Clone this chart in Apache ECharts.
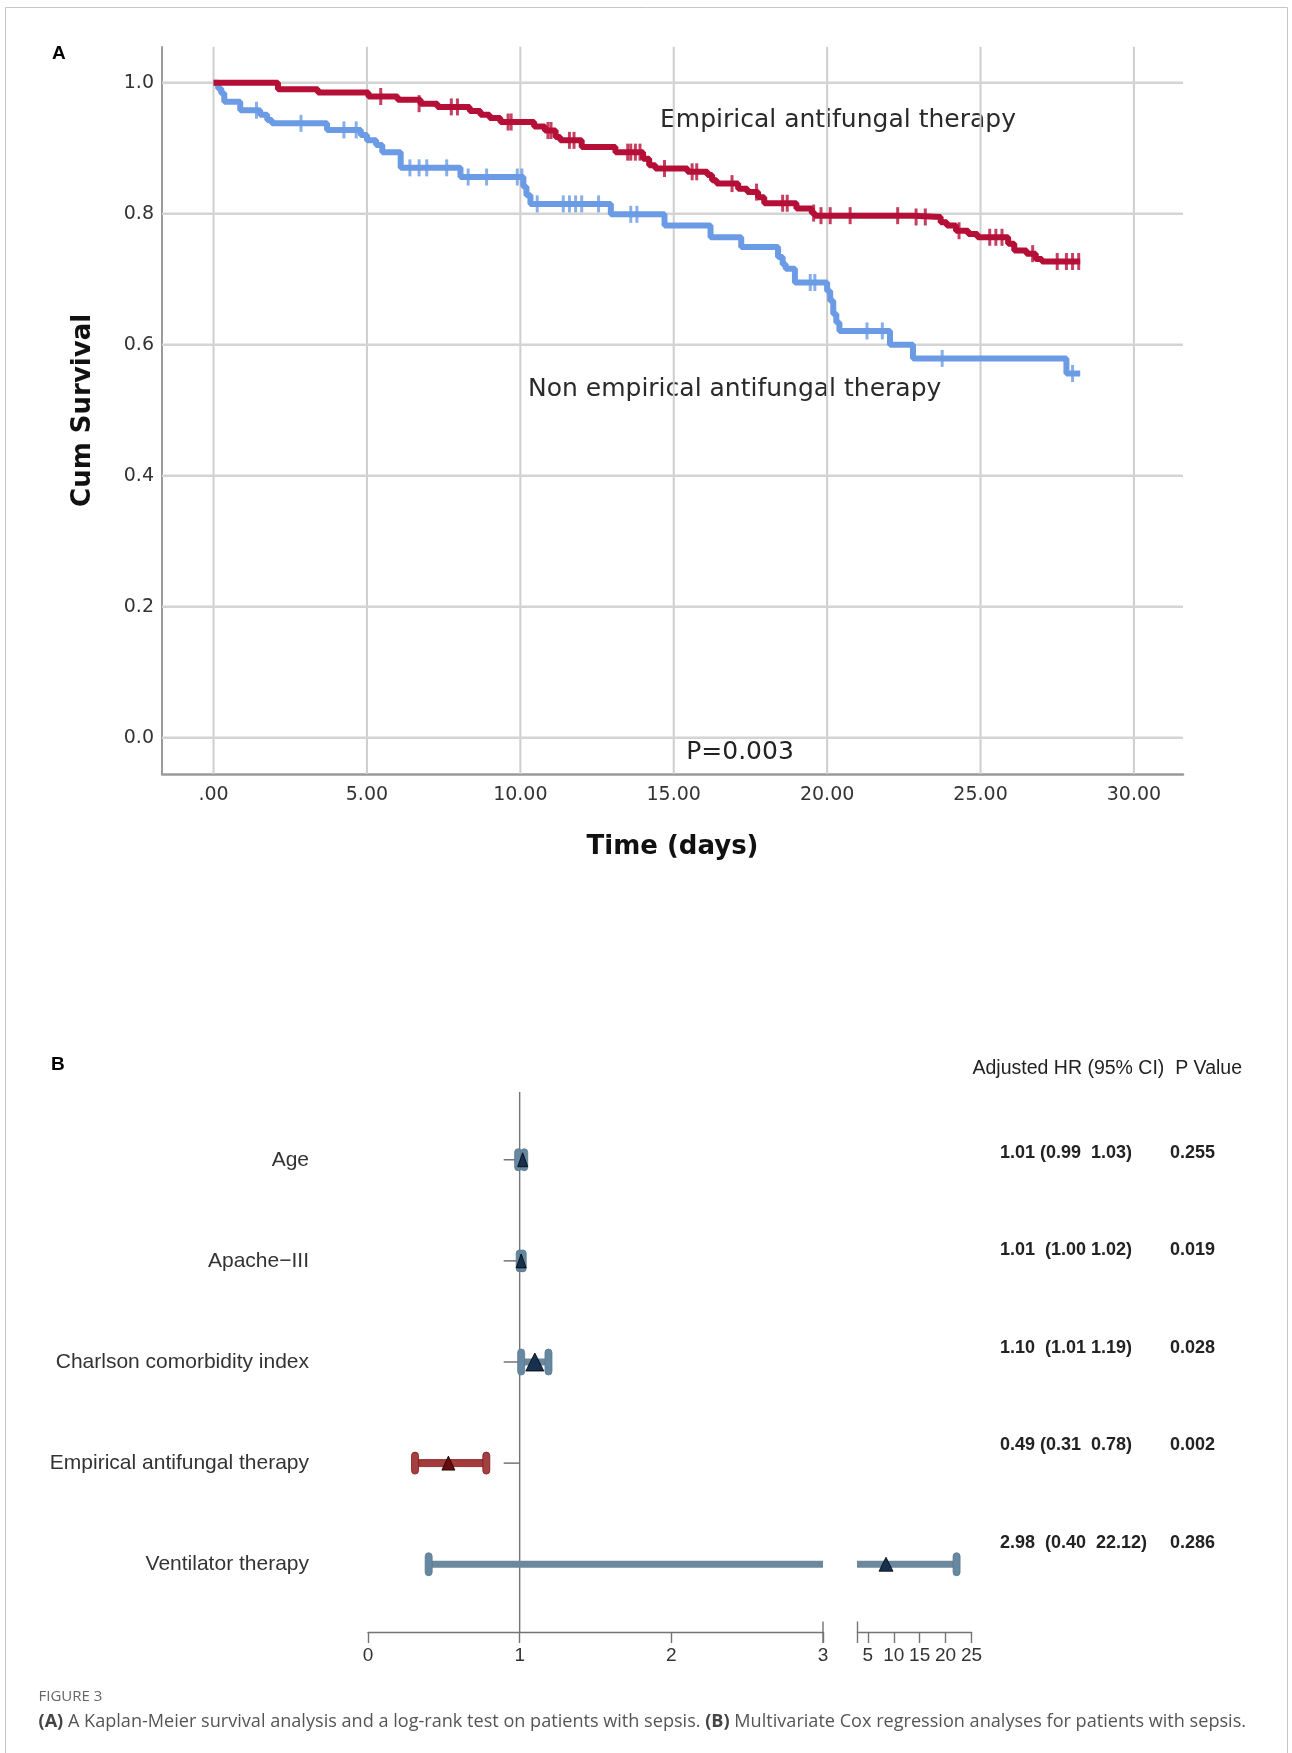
<!DOCTYPE html>
<html><head><meta charset="utf-8">
<script src="https://cdn.jsdelivr.net/npm/echarts@6/dist/echarts.min.js"></script>
<style>html,body{margin:0;padding:0;background:#fff}#c{width:1292px;height:1753px}</style>
</head><body><div id="c"></div>
<script>
// ===== Panel A: Kaplan-Meier =====
const kmXTicks = [0, 5, 10, 15, 20, 25, 30];
const kmYTicks = [0, 0.2, 0.4, 0.6, 0.8, 1.0];
// [time (days), cumulative survival] – survival from that time onward
const empiricalSteps = [[0,1.000],[2.1,0.990],[3.4,0.985],[5.05,0.979],[6.0,0.974],[6.75,0.968],[7.3,0.963],[8.35,0.957],[8.7,0.951],[9.0,0.946],[9.35,0.940],[10.45,0.933],[10.8,0.927],[11.15,0.917],[11.3,0.912],[12.0,0.902],[13.1,0.894],[14.0,0.884],[14.2,0.874],[14.4,0.869],[15.45,0.864],[16.1,0.859],[16.25,0.851],[16.4,0.846],[17.1,0.838],[17.4,0.833],[17.75,0.825],[17.95,0.816],[19.0,0.808],[19.5,0.801],[19.6,0.797],[22.8,0.795],[23.7,0.787],[23.9,0.782],[24.2,0.774],[24.6,0.769],[24.9,0.764],[25.9,0.754],[26.1,0.744],[26.5,0.739],[26.8,0.731],[27.0,0.727],[28.25,0.727]];
const nonEmpiricalSteps = [[0,1.000],[0.15,0.991],[0.25,0.984],[0.35,0.971],[0.87,0.958],[1.52,0.951],[1.75,0.943],[1.9,0.938],[3.7,0.928],[4.8,0.920],[5.0,0.912],[5.3,0.905],[5.5,0.894],[6.1,0.870],[8.05,0.856],[10.1,0.841],[10.2,0.828],[10.33,0.815],[12.95,0.799],[14.7,0.782],[16.2,0.764],[17.2,0.749],[18.4,0.734],[18.55,0.723],[18.65,0.716],[18.95,0.695],[20.0,0.682],[20.1,0.667],[20.2,0.647],[20.3,0.634],[20.4,0.621],[22.05,0.600],[22.8,0.579],[27.8,0.556],[28.25,0.556]];
const empiricalCensored = [[5.45,0.979],[6.7,0.968],[7.75,0.963],[7.95,0.963],[9.6,0.940],[9.7,0.940],[10.9,0.927],[11.0,0.927],[11.6,0.912],[11.75,0.912],[13.5,0.894],[13.6,0.894],[13.75,0.894],[13.9,0.894],[14.7,0.869],[15.6,0.864],[15.75,0.864],[16.9,0.846],[17.7,0.833],[18.55,0.816],[18.7,0.816],[19.56,0.801],[19.8,0.797],[20.1,0.797],[20.75,0.797],[22.3,0.797],[22.9,0.795],[23.2,0.795],[24.3,0.774],[25.3,0.764],[25.5,0.764],[25.7,0.764],[26.7,0.739],[27.5,0.727],[27.8,0.727],[28.0,0.727],[28.2,0.727]];
const nonEmpiricalCensored = [[1.4,0.958],[2.85,0.938],[4.25,0.928],[4.65,0.928],[6.4,0.870],[6.7,0.870],[6.95,0.870],[7.6,0.870],[8.3,0.856],[8.9,0.856],[9.9,0.856],[10.05,0.856],[10.55,0.815],[11.4,0.815],[11.6,0.815],[11.8,0.815],[12.0,0.815],[12.55,0.815],[13.6,0.799],[13.8,0.799],[19.45,0.695],[19.6,0.695],[21.3,0.621],[21.8,0.621],[23.75,0.579],[28.0,0.556]];

// ===== Panel B: Cox regression forest plot =====
const covariates = ['Age', 'Apache\u2212III', 'Charlson comorbidity index', 'Empirical antifungal therapy', 'Ventilator therapy'];
const hr = [1.01, 1.01, 1.10, 0.49, 2.98];
const ciLow = [0.99, 1.00, 1.01, 0.31, 0.40];
const ciHigh = [1.03, 1.02, 1.19, 0.78, 22.12];
const pValues = [0.255, 0.019, 0.028, 0.002, 0.286];
const markerPlotted = [1.02, 1.01, 1.10, 0.53, 8.5]; // triangle positions as drawn in the figure
const seg1Ticks = [0, 1, 2, 3];
const seg2Ticks = [5, 10, 15, 20, 25];
const axisBreak = 3;
const seg2Max = 25;
const refHR = 1;

// ---- styles (kept apart from data) ----
const RED = '#b50f38', BLUE = '#6b9be4';
const KM_X = [-1.68, 31.6], KM_Y = [-0.0555, 1.055];
const FB_Y = [-0.67, 4.67];
const triSize = [[10,14],[10,14],[18,18],[13,14],[14,14]];
const capH = [22, 22, 26, 22, 23];
const sepA = [' ', '  ', '  ', ' ', '  '];
const sepB = ['  ', ' ', ' ', '  ', '  '];
const KMFONT = '"DejaVu Sans", sans-serif';
const ARIAL = '"Liberation Sans", Arial, sans-serif';

const hrText = hr.map((v, i) => v.toFixed(2) + sepA[i] + '(' + ciLow[i].toFixed(2) + sepB[i] + ciHigh[i].toFixed(2) + ')');
const pText = pValues.map(v => v.toFixed(3));

const chart = echarts.init(document.getElementById('c'), null, {renderer: 'canvas', width: 1292, height: 1753});

function lineEl(x1, y1, x2, y2, stroke, w) {
  return {type: 'line', shape: {x1, y1, x2, y2}, style: {stroke, lineWidth: w}};
}

function ciRender(params, api) {
  const i = api.value(0), lo = api.value(1), hi = api.value(2), pos = api.value(3);
  const a = api.coord([lo, i]), b = api.coord([hi, i]), m = api.coord([pos, i]);
  const isRed = i === 3;
  const barFill = isRed ? '#a23c3c' : '#6b889d';
  const capFill = isRed ? '#a44040' : '#6788a1';
  const edge = isRed ? '#7e1b1b' : '#5a7890';
  const triFill = isRed ? '#6a0b0b' : '#17304f';
  const y = a[1], ch = capH[i], tw = triSize[i][0], th = triSize[i][1];
  return {type: 'group', children: [
    {type: 'rect', shape: {x: a[0], y: y - 3.5, width: b[0] - a[0], height: 7}, style: {fill: barFill, stroke: isRed ? edge : null, lineWidth: 0.8}},
    {type: 'rect', shape: {x: a[0] - 3.5, y: y - ch / 2, width: 7, height: ch, r: 3.5}, style: {fill: capFill, stroke: edge, lineWidth: 0.8}},
    {type: 'rect', shape: {x: b[0] - 3.5, y: y - ch / 2, width: 7, height: ch, r: 3.5}, style: {fill: capFill, stroke: edge, lineWidth: 0.8}},
    {type: 'polygon', shape: {points: [[m[0], y - th / 2], [m[0] - tw / 2, y + th / 2], [m[0] + tw / 2, y + th / 2]]}, style: {fill: triFill, stroke: '#000', lineWidth: 0.8}}
  ]};
}

const ciData = covariates.map((_, i) => [i, ciLow[i], ciHigh[i], markerPlotted[i]]);

const series = [
  {type: 'custom', xAxisIndex: 0, yAxisIndex: 0, z: 1, silent: true,
   data: kmXTicks.map(v => [v, 0]),
   renderItem(p, api) { const v = api.value(0); const a = api.coord([v, KM_Y[0]]), b = api.coord([v, KM_Y[1]]); return lineEl(a[0], a[1], b[0], b[1], '#cecece', 2); }},
  {type: 'custom', xAxisIndex: 0, yAxisIndex: 0, z: 1, silent: true,
   data: kmYTicks.map(v => [0, v]),
   renderItem(p, api) { const v = api.value(1); const a = api.coord([KM_X[0], v]), b = api.coord([KM_X[1], v]); return lineEl(a[0], a[1], b[0], b[1], '#d4d4d4', 2.5); }},
  {type: 'line', name: 'Non empirical antifungal therapy', xAxisIndex: 0, yAxisIndex: 0, z: 3, step: 'end', showSymbol: false,
   data: nonEmpiricalSteps, lineStyle: {color: BLUE, width: 6}, itemStyle: {color: BLUE}},
  {type: 'scatter', xAxisIndex: 0, yAxisIndex: 0, z: 3, data: nonEmpiricalCensored, symbol: 'rect', symbolSize: [3, 17], itemStyle: {color: BLUE}},
  {type: 'line', name: 'Empirical antifungal therapy', xAxisIndex: 0, yAxisIndex: 0, z: 4, step: 'end', showSymbol: false,
   data: empiricalSteps, lineStyle: {color: RED, width: 6}, itemStyle: {color: RED}},
  {type: 'scatter', xAxisIndex: 0, yAxisIndex: 0, z: 4, data: empiricalCensored, symbol: 'rect', symbolSize: [3, 17], itemStyle: {color: RED}},

  {type: 'custom', xAxisIndex: 1, yAxisIndex: 1, z: 1, silent: true, data: [[refHR, 0]],
   renderItem(p, api) { const a = api.coord([refHR, FB_Y[0]]), b = api.coord([refHR, FB_Y[1]]); return lineEl(a[0], a[1], b[0], b[1], '#747474', 1.4); }},
  {type: 'custom', xAxisIndex: 1, yAxisIndex: 1, z: 1, silent: true, data: covariates.map((_, i) => [refHR, i]),
   renderItem(p, api) { const c = api.coord([refHR, api.value(1)]); return lineEl(c[0] - 16, c[1], c[0], c[1], '#747474', 1.5); }},
  {type: 'custom', xAxisIndex: 1, yAxisIndex: 1, z: 2, silent: true, data: [[axisBreak, FB_Y[1]]],
   renderItem(p, api) { const c = api.coord([axisBreak, FB_Y[1]]); return lineEl(c[0], c[1] - 10.5, c[0], c[1] + 11, '#747474', 1.4); }},
  {type: 'custom', xAxisIndex: 2, yAxisIndex: 2, z: 2, silent: true, data: [[axisBreak, FB_Y[1]]],
   renderItem(p, api) { const c = api.coord([axisBreak, FB_Y[1]]); return lineEl(c[0], c[1] - 10.5, c[0], c[1] + 11, '#747474', 1.4); }},
  {type: 'custom', xAxisIndex: 1, yAxisIndex: 1, z: 3, clip: true, silent: true, data: ciData, renderItem: ciRender},
  {type: 'custom', xAxisIndex: 2, yAxisIndex: 2, z: 3, clip: true, silent: true, data: ciData, renderItem: ciRender},
  {type: 'custom', xAxisIndex: 3, yAxisIndex: 3, z: 3, silent: true,
   data: covariates.flatMap((_, i) => [[0, i], [1, i]]),
   renderItem(p, api) {
     const col = api.value(0), row = api.value(1); const c = api.coord([col, row]);
     return {type: 'text', style: {text: col === 0 ? hrText[row] : pText[row], x: c[0], y: c[1],
       font: 'bold 18px ' + ARIAL, fill: '#222', textAlign: 'left', textVerticalAlign: 'middle', align: 'left', verticalAlign: 'middle'}};
   }}
];

const hidden = {show: false};
const option = {
  animation: false,
  backgroundColor: '#fff',
  grid: [
    {left: 162, top: 46.7, width: 1021, height: 727.3, containLabel: false, outerBoundsMode: 'none'},
    {left: 368, top: 1092, width: 455, height: 540, containLabel: false, outerBoundsMode: 'none'},
    {left: 857.5, top: 1092, width: 114, height: 540, containLabel: false, outerBoundsMode: 'none'},
    {left: 1000, top: 1153, width: 170, height: 389.6, containLabel: false, outerBoundsMode: 'none'}
  ],
  xAxis: [
    {gridIndex: 0, type: 'value', min: KM_X[0], max: KM_X[1],
     axisLine: {show: true, onZero: false, lineStyle: {color: '#9a9a9a', width: 2.5}},
     axisTick: hidden, splitLine: hidden,
     axisLabel: {customValues: kmXTicks, formatter: v => v === 0 ? '.00' : v.toFixed(2), fontFamily: KMFONT, fontSize: 19, color: '#333', margin: 12},
     name: 'Time (days)', nameLocation: 'middle', nameGap: 60,
     nameTextStyle: {fontFamily: KMFONT, fontWeight: 'bold', fontSize: 26, color: '#111'}},
    {gridIndex: 1, type: 'value', min: 0, max: axisBreak, interval: 1,
     axisLine: {show: true, onZero: false, lineStyle: {color: '#747474', width: 1.4}},
     axisTick: {show: true, length: 11, lineStyle: {color: '#747474', width: 1.4}},
     splitLine: hidden,
     axisLabel: {fontFamily: ARIAL, fontSize: 19, color: '#333', margin: 14}},
    {gridIndex: 2, type: 'value', min: axisBreak, max: seg2Max,
     axisLine: {show: true, onZero: false, lineStyle: {color: '#747474', width: 1.4}},
     axisTick: {show: true, length: 11, customValues: seg2Ticks, lineStyle: {color: '#747474', width: 1.4}},
     splitLine: hidden,
     axisLabel: {customValues: seg2Ticks, fontFamily: ARIAL, fontSize: 19, color: '#333', margin: 14}},
    {gridIndex: 3, type: 'value', min: 0, max: 1, show: false}
  ],
  yAxis: [
    {gridIndex: 0, type: 'value', min: KM_Y[0], max: KM_Y[1],
     axisLine: {show: true, onZero: false, lineStyle: {color: '#7a7a7a', width: 1.5}},
     axisTick: hidden, splitLine: hidden,
     axisLabel: {customValues: kmYTicks, formatter: v => v.toFixed(1), fontFamily: KMFONT, fontSize: 19, color: '#333', margin: 8},
     name: 'Cum Survival', nameLocation: 'middle', nameRotate: 90, nameGap: 66,
     nameTextStyle: {fontFamily: KMFONT, fontWeight: 'bold', fontSize: 26, color: '#111'}},
    {gridIndex: 1, type: 'value', min: FB_Y[0], max: FB_Y[1], inverse: true,
     axisLine: {show: false, onZero: false}, axisTick: hidden, splitLine: hidden,
     axisLabel: {customValues: [0, 1, 2, 3, 4], formatter: v => covariates[Math.round(v)], fontFamily: ARIAL, fontSize: 21, color: '#333', margin: 59}},
    {gridIndex: 2, type: 'value', min: FB_Y[0], max: FB_Y[1], inverse: true, show: false},
    {gridIndex: 3, type: 'value', min: 0, max: 4, inverse: true, show: false}
  ],
  graphic: [
    {type: 'rect', silent: true, z: 0, shape: {x: 5.5, y: 7.5, width: 1282, height: 1760}, style: {fill: 'none', stroke: '#c6c6c6', lineWidth: 1}},
    {type: 'text', style: {text: 'A', x: 52, y: 53.5, font: 'bold 19px ' + ARIAL, fill: '#000', textAlign: 'left', textVerticalAlign: 'middle', align: 'left', verticalAlign: 'middle'}},
    {type: 'text', style: {text: 'Empirical antifungal therapy', x: 660, y: 120, font: '25px ' + KMFONT, fill: '#2a2a2a', textAlign: 'left', textVerticalAlign: 'middle', align: 'left', verticalAlign: 'middle'}},
    {type: 'text', style: {text: 'Non empirical antifungal therapy', x: 528, y: 389, font: '25px ' + KMFONT, fill: '#2a2a2a', textAlign: 'left', textVerticalAlign: 'middle', align: 'left', verticalAlign: 'middle'}},
    {type: 'text', style: {text: 'P=0.003', x: 740, y: 752, font: '25px ' + KMFONT, fill: '#222', textAlign: 'center', textVerticalAlign: 'middle', align: 'center', verticalAlign: 'middle'}},
    {type: 'text', style: {text: 'B', x: 51, y: 1065, font: 'bold 19px ' + ARIAL, fill: '#000', textAlign: 'left', textVerticalAlign: 'middle', align: 'left', verticalAlign: 'middle'}},
    {type: 'text', style: {text: 'Adjusted HR (95% CI)  P Value', x: 972.5, y: 1069, font: '19.5px ' + ARIAL, fill: '#222', textAlign: 'left', textVerticalAlign: 'middle', align: 'left', verticalAlign: 'middle'}},
    {type: 'text', style: {text: 'FIGURE 3', x: 38.5, y: 1697, font: '15px "Open Sans", sans-serif', fill: '#666', textAlign: 'left', textVerticalAlign: 'middle', align: 'left', verticalAlign: 'middle'}},
    {type: 'text', style: {
      text: '{b|(A)} A Kaplan-Meier survival analysis and a log-rank test on patients with sepsis. {b|(B)} Multivariate Cox regression analyses for patients with sepsis.',
      x: 38.5, y: 1722, font: '18.1px "Open Sans", sans-serif', fill: '#555', textAlign: 'left', textVerticalAlign: 'middle', align: 'left', verticalAlign: 'middle',
      rich: {b: {fontWeight: 'bold', fontSize: 18.1, fontFamily: '"Open Sans", sans-serif', fill: '#444'}}}}
  ],
  series: series
};
chart.setOption(option);
</script></body></html>
